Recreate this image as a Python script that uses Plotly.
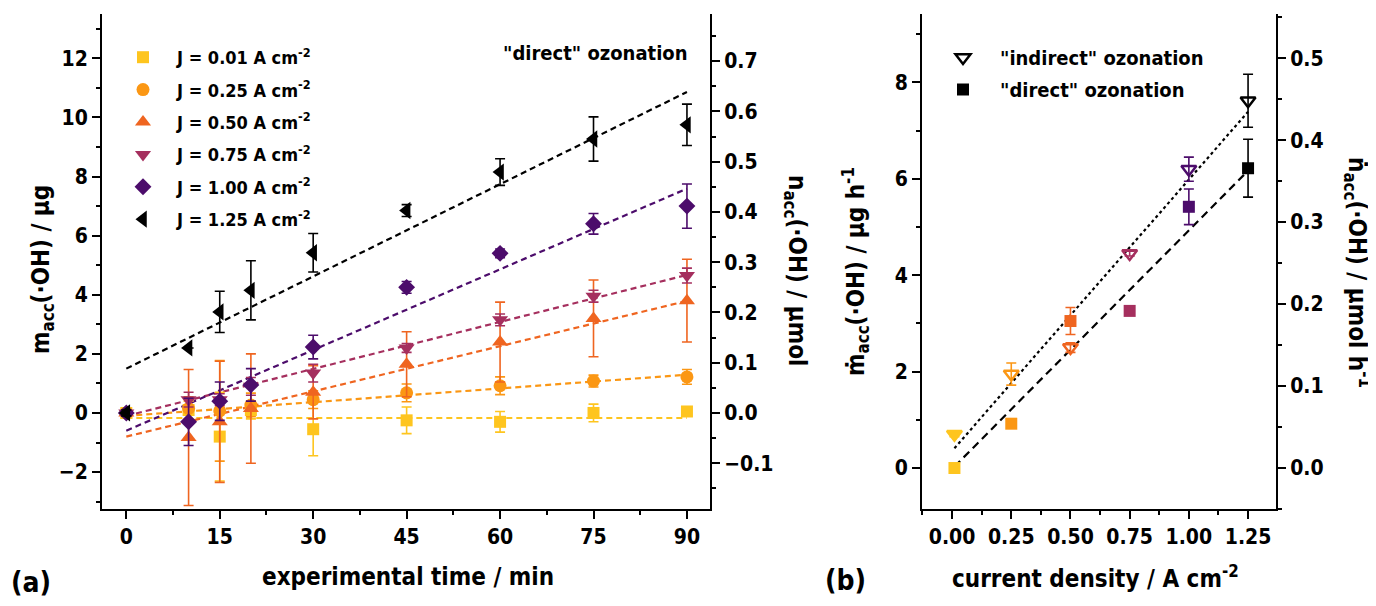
import plotly.graph_objects as go

W, H = 1376, 606
FONT = "DejaVu Sans Condensed, Liberation Sans Narrow, Arial Narrow, sans-serif"
OH_MASS = 17.007  # µg per µmol
PAGE_OFFSET = 8   # default body margin of the html page

# ---------------- panel (a) data ----------------
time_min = [0, 10, 15, 20, 30, 45, 60, 75, 90]
series_names = ["J = 0.01 A cm<sup>-2</sup>", "J = 0.25 A cm<sup>-2</sup>", "J = 0.50 A cm<sup>-2</sup>",
                "J = 0.75 A cm<sup>-2</sup>", "J = 1.00 A cm<sup>-2</sup>", "J = 1.25 A cm<sup>-2</sup>"]
colors = ["#FEC51F", "#FB9714", "#EF6520", "#A52F5E", "#4C0C6B", "#000000"]
symbols = ["square", "circle", "triangle-up", "triangle-down", "diamond", "triangle-left"]
msizes = [12, 13, 14, 14, 13, 15]

m_j001 = [0, 0.1, -0.8, 0.1, -0.55, -0.25, -0.3, 0.0, 0.05]
m_j025 = [0, 0.15, 0.07, 0.27, 0.45, 0.68, 0.92, 1.08, 1.22]
m_j050 = [0, -0.83, -0.3, 0.15, 0.7, 1.65, 2.4, 3.2, 3.8]
m_j075 = [0, 0.45, 0.45, 0.9, 1.35, 2.2, 3.15, 3.95, 4.65]
m_j100 = [0, -0.3, 0.4, 0.95, 2.23, 4.25, 5.4, 6.4, 7.0]
m_j125 = [0, 2.2, 3.42, 4.15, 5.42, 6.85, 8.15, 9.27, 9.75]

e_j001 = [0.1, 0.3, 1.5, 0.3, 0.9, 0.45, 0.35, 0.3, 0.1]
e_j025 = [0.1, 0.4, 1.7, 0.4, 0.3, 0.3, 0.3, 0.2, 0.25]
e_j050 = [0.1, 2.3, 2.05, 1.85, 0.9, 1.1, 1.35, 1.3, 1.4]
e_j075 = [0.1, 0.25, 0.2, 0.3, 0.3, 0.15, 0.2, 0.2, 0.25]
e_j100 = [0.1, 0.8, 0.65, 0.55, 0.4, 0.2, 0.15, 0.35, 0.75]
e_j125 = [0.1, 0.0, 0.7, 1.0, 0.65, 0.2, 0.45, 0.75, 0.7]

fit_slope_a = [0.0, 0.0155, 0.051, 0.053, 0.091, 0.104]
fit_intercept_a = [-0.17, -0.1, -0.8, -0.1, -0.6, 1.5]
fit_t = [0, 90]

# ---------------- panel (b) data ----------------
current_density = [0.01, 0.25, 0.50, 0.75, 1.00, 1.25]
rate_indirect = [0.7, 1.95, 2.5, 4.45, 6.2, 7.62]
err_indirect = [0.05, 0.23, 0.1, 0.05, 0.25, 0.55]
rate_direct = [0.0, 0.92, 3.05, 3.26, 5.42, 6.22]
err_direct = [0.0, 0.0, 0.28, 0.05, 0.37, 0.6]
indirect_symbols = ["triangle-down", "triangle-down-open", "triangle-down-open",
                    "triangle-down-open", "triangle-down-open", "triangle-down-open"]
fit_b_slope = [5.63, 4.95]      # indirect, direct
fit_b_intercept = [0.354, -0.02]
fit_j = [0.01, 1.25]

fig = go.Figure()

m_all = [m_j001, m_j025, m_j050, m_j075, m_j100, m_j125]
e_all = [e_j001, e_j025, e_j050, e_j075, e_j100, e_j125]

# fit lines (a)
for i in range(6):
    fig.add_trace(go.Scatter(
        x=fit_t, y=[fit_intercept_a[i] + fit_slope_a[i] * t for t in fit_t],
        mode="lines", line=dict(color=colors[i], width=2.2, dash="6px,4px"),
        showlegend=False, hoverinfo="skip", xaxis="x", yaxis="y"))

# data (a)
for i in range(6):
    fig.add_trace(go.Scatter(
        x=time_min, y=m_all[i], mode="markers", name=series_names[i],
        marker=dict(symbol=symbols[i], color=colors[i], size=msizes[i], line=dict(width=0)),
        error_y=dict(type="data", array=e_all[i], color=colors[i], thickness=1.6, width=5),
        xaxis="x", yaxis="y", legend="legend", legendgroup=f"g{i}"))

# dummy trace to activate right axis of panel (a)
fig.add_trace(go.Scatter(x=[None], y=[None], xaxis="x", yaxis="y2", showlegend=False))

# fit lines (b)
fig.add_trace(go.Scatter(
    x=fit_j, y=[fit_b_intercept[0] + fit_b_slope[0] * j for j in fit_j], mode="lines",
    line=dict(color="black", width=2.2, dash="dot"), showlegend=False, xaxis="x2", yaxis="y3"))
fig.add_trace(go.Scatter(
    x=fit_j, y=[fit_b_intercept[1] + fit_b_slope[1] * j for j in fit_j], mode="lines",
    line=dict(color="black", width=2.2, dash="8px,5px"), showlegend=False, xaxis="x2", yaxis="y3"))

# data points (b), one per point to colour error bars
for k in range(6):
    fig.add_trace(go.Scatter(
        x=[current_density[k]], y=[rate_direct[k]], mode="markers",
        marker=dict(symbol="square", color=colors[k], size=12),
        error_y=dict(type="data", array=[err_direct[k]], color=colors[k], thickness=1.6, width=5,
                     visible=err_direct[k] > 0),
        showlegend=False, xaxis="x2", yaxis="y3"))
    fig.add_trace(go.Scatter(
        x=[current_density[k]], y=[rate_indirect[k]], mode="markers",
        marker=dict(symbol=indirect_symbols[k], color=colors[k], size=13, line=dict(width=2.5, color=colors[k])),
        error_y=dict(type="data", array=[err_indirect[k]], color=colors[k], thickness=1.6, width=5),
        showlegend=False, xaxis="x2", yaxis="y3"))

# legend entries (b)
fig.add_trace(go.Scatter(x=[None], y=[None], mode="markers", name='"indirect" ozonation',
                         marker=dict(symbol="triangle-down-open", color="black", size=13, line=dict(width=2.5)),
                         xaxis="x2", yaxis="y3", legend="legend2", legendgroup="i"))
fig.add_trace(go.Scatter(x=[None], y=[None], mode="markers", name='"direct" ozonation',
                         marker=dict(symbol="square", color="black", size=12),
                         xaxis="x2", yaxis="y3", legend="legend2", legendgroup="d"))
fig.add_trace(go.Scatter(x=[None], y=[None], xaxis="x2", yaxis="y4", showlegend=False))

def px_x(p):
    return (p - PAGE_OFFSET) / W

def px_y(p):
    return 1 - (p - PAGE_OFFSET) / H

ya_bot, ya_top = px_y(509), px_y(14)
yrange_a = [-3.25, 13.5]
yrange_b = [-0.85, 9.42]

tickfont = dict(family=FONT, size=21, color="black", weight="bold")
common = dict(showline=True, linecolor="black", linewidth=2, ticks="outside", ticklen=8, tickwidth=2,
              tickcolor="black", showgrid=False, zeroline=False, tickfont=tickfont)
minor_common = dict(ticks="outside", ticklen=4, tickwidth=2, tickcolor="black", showgrid=False)

fig.update_layout(
    width=W, height=H, autosize=False, margin=dict(l=0, r=0, t=0, b=0, autoexpand=False),
    paper_bgcolor="white", plot_bgcolor="white",
    font=dict(family=FONT, color="black", weight="bold"),
    xaxis=dict(domain=[px_x(102), px_x(710)], range=[-3.9, 93.7], tickmode="array",
               tickvals=[0, 15, 30, 45, 60, 75, 90], anchor="y",
               minor=dict(dtick=7.5, tick0=0, **minor_common), **common),
    yaxis=dict(domain=[ya_bot, ya_top], range=yrange_a, dtick=2, tick0=0, anchor="x",
               minor=dict(dtick=1, tick0=0, **minor_common), **common),
    yaxis2=dict(range=[v / OH_MASS for v in yrange_a], overlaying="y", side="right", anchor="x",
                dtick=0.1, tick0=0, tickformat=".1f",
                minor=dict(dtick=0.05, tick0=0, **minor_common), **common),
    xaxis2=dict(domain=[px_x(922), px_x(1276)], range=[-0.127, 1.368], anchor="y3",
                tickvals=[0, 0.25, 0.5, 0.75, 1.0, 1.25], tickformat=".2f",
                minor=dict(dtick=0.125, tick0=0, **minor_common), **common),
    yaxis3=dict(domain=[ya_bot, ya_top], range=yrange_b, dtick=2, tick0=0, anchor="x2",
                minor=dict(dtick=1, tick0=0, **minor_common), **common),
    yaxis4=dict(range=[v / OH_MASS for v in yrange_b], overlaying="y3", side="right", anchor="x2",
                dtick=0.1, tick0=0, tickformat=".1f",
                minor=dict(dtick=0.05, tick0=0, **minor_common), **common),
    legend=dict(x=px_x(109), y=px_y(39), xanchor="left", yanchor="top", bgcolor="rgba(0,0,0,0)",
                font=dict(family=FONT, size=18, color="black", weight="bold"), tracegroupgap=6,
                itemwidth=58),
    legend2=dict(x=px_x(926), y=px_y(38), xanchor="left", yanchor="top", bgcolor="rgba(0,0,0,0)",
                 font=dict(family=FONT, size=20, color="black", weight="bold"), tracegroupgap=3,
                 itemwidth=64),
)

ann_font = dict(family=FONT, size=24, color="black", weight="bold")
annotations = [
    dict(text="m<sub>acc</sub>(·OH) / µg", x=px_x(42), y=px_y(270), textangle=-90),
    dict(text="n<sub>acc</sub>(·OH) / µmol", x=px_x(796), y=px_y(270), textangle=90),
    dict(text="experimental time / min", x=px_x(408), y=px_y(577)),
    dict(text="(a)", x=px_x(31), y=px_y(582), size=28),
    dict(text="ṁ<sub>acc</sub>(·OH) / µg h<sup>-1</sup>", x=px_x(856), y=px_y(272), textangle=-90),
    dict(text="ṅ<sub>acc</sub>(·OH) / µmol h<sup>-1</sup>", x=px_x(1357), y=px_y(272), textangle=90),
    dict(text="current density / A cm<sup>-2</sup>", x=px_x(1095), y=px_y(577)),
    dict(text="(b)", x=px_x(845), y=px_y(580), size=28),
    dict(text='"direct" ozonation', x=px_x(595), y=px_y(53), size=20),
]
for a in annotations:
    f = dict(ann_font)
    if "size" in a:
        f["size"] = a.pop("size")
    fig.add_annotation(xref="paper", yref="paper", showarrow=False, xanchor="center", yanchor="middle",
                       font=f, **a)

fig.write_html("out.html")
